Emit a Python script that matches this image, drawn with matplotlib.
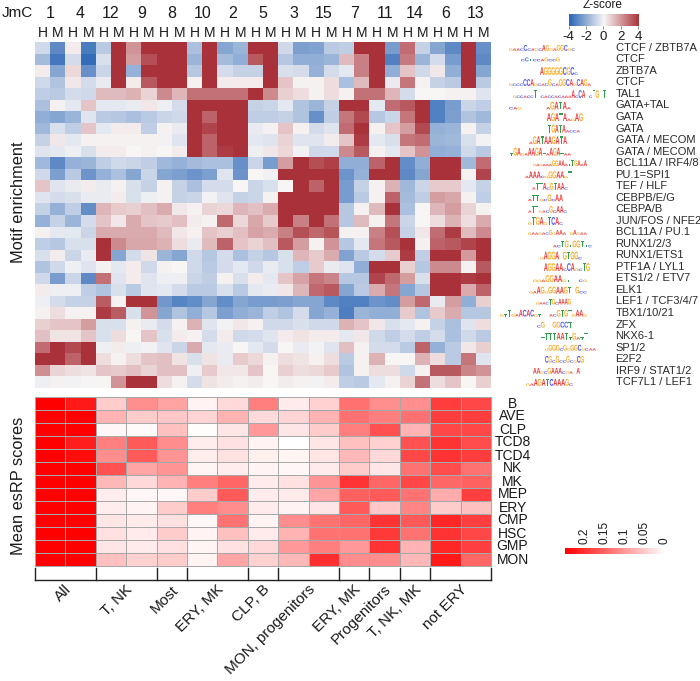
import numpy as np
import matplotlib
matplotlib.use("Agg")
import matplotlib.pyplot as plt
from matplotlib.colors import LinearSegmentedColormap
from matplotlib.patheffects import AbstractPathEffect
from matplotlib.transforms import Affine2D

plt.rcParams['font.family'] = ['Liberation Sans', 'DejaVu Sans']

jmc = ['1', '4', '12', '9', '8', '10', '2', '5', '3', '15', '7', '11', '14', '6', '13']
motifs = ['CTCF / ZBTB7A', 'CTCF', 'ZBTB7A', 'CTCF', 'TAL1', 'GATA+TAL', 'GATA', 'GATA',
          'GATA / MECOM', 'GATA / MECOM', 'BCL11A / IRF4/8', 'PU.1=SPI1', 'TEF / HLF',
          'CEBPB/E/G', 'CEBPA/B', 'JUN/FOS / NFE2', 'BCL11A / PU.1', 'RUNX1/2/3', 'RUNX1/ETS1',
          'PTF1A / LYL1', 'ETS1/2 / ETV7', 'ELK1', 'LEF1 / TCF3/4/7', 'TBX1/10/21', 'ZFX',
          'NKX6-1', 'SP1/2', 'E2F2', 'IRF9 / STAT1/2', 'TCF7L1 / LEF1']
logos = ['gaacCcagcAGgaGGCgc', 'cCtccaGccG', 'AGGGGGCGCc', 'gcccCCAgcacGcaGGCAgCAGa',
         'gccaccTtcaccacaaaAcCAtcTGtT', 'cag      aGATAa', 'AGATAagAG', 'TGATAacca',
         'aGATAAGATA', 'tGAgaAAGAtaAGAtaa', 'gagaaaGGAAatTGAaA', 'aAAAcgGGAAgT',
         'aTTAcGTAAc', 'aTTgcGcAA', 'aTTgacGcAAc', 'gTGAgTCAc', 'gaagacGgAAatgAgaa',
         'acTGtGGTtc', 'gAGGAtGTGGc', 'AGGAAcCAgcTG', 'ggaGGAAgt  cg', 'gaAGgGGAAGT Gcc',
         'gaacTGcAAAG', 'gtTgaACACgt  acGTGTgAAg', 'cG  GGCCT', 'tTTTAATtGatT',
         'gGGGcGgGGCgcaa', 'CGcGccGcgCG', 'AAgcGAAAcga A', 'gaAGATCAAAGc']

zscores = [
    [-.8, -3, .2, -3.4, -1.2, 4, 2, 4, 4, 4, -1.5, 4, -2.2, -1.8, 4, 4, -.8, -2.4, -2.3, -1.2, -1.1, 4, 4, -2.5, 2.8, -1, -2.2, -3, 4, -2.8],
    [-1.6, -3.5, -.7, -3.8, -.6, 4, 1.8, 3.4, 4, 4, -1.8, 4, -1.6, -2, 3.2, 4, -1.3, -2, -2, -1.8, 1.2, 2.4, 4, -3.2, 2.5, -1.8, -.7, -2.5, 4, -3],
    [.2, -2.2, .6, -2.8, -.9, 4, -1.9, 4, 4, 4, -1.3, 4, -.7, -1, -1, 4, -.6, -.7, -1.9, -.7, -.4, 2.4, 4, -2, 1, -.8, .3, -2, 4, -2.2],
    [-.8, -1.4, .3, -.7, -.3, 4, .2, 3.2, 4, 4, .1, 4, .2, .2, .2, 4, 1, .1, .1, .5, -1.5, 1.2, 4, -.3, 2.6, .1, -1, -1.2, 4, -1.2],
    [-1.1, -1.2, -.7, -.8, 1.2, 1.2, 1.4, .7, 2.2, 1.3, 2.7, 2.7, 2.7, 2.7, 4, 2.2, .8, .5, .1, .5, .1, 2.7, 2.7, 1.3, -.7, 0, 0, .1, .1, -.5],
    [-1.5, .1, -.4, 1, -.4, -.4, -.3, .3, -.2, -.7, 4, 4, 4, 4, -1, -.9, -.4, -1.4, -1.8, -1, 4, 4, -.4, 2.8, 3.2, 4, -3.2, -2.5, -.9, -1.1],
    [-2, -2.2, -1.8, -.5, -1.2, -1.3, -1.5, -1.2, -.9, -.8, 4, 3, 4, 4, -1.1, -1.1, -1, -1.4, -2.8, -1.1, 2.6, 3.5, -1.3, -.9, 2.6, 4, -3.2, -2.4, -1.4, -1.7],
    [-1.7, -.6, -1.1, 1, -.4, .2, .2, -1.1, .1, -.3, 4, 3.6, 4, 4, -.3, .1, 1, .1, -.7, -.5, 2.8, 4, .1, 1, 1.8, 3.5, -1.9, -1.8, .1, -1],
    [-1, .3, -.4, .1, .1, .1, .1, .1, -.1, -.5, 4, 3, 4, 4, -.4, -.5, .7, -.5, -.5, .2, 1, 3.8, -.4, -.6, 2.6, 2.8, -1.8, -1.7, -.6, -.1],
    [-.5, -.4, -.2, -.6, .2, .2, 0, .1, 0, .2, 4, 3, 3.8, 4, -.2, .3, .6, -.1, -.8, -.8, 2.2, 3.2, .1, -.4, 1, 2, -2, -1.9, -.8, -1.2],
    [-1.7, -3, -1.9, -1.8, -1.1, -.8, -.9, -1.1, -1.7, -1.9, -1.6, -1.5, -1.5, -2.8, -.9, -2.5, 1.8, 4, 3.4, 3.7, -2, -2, 3, 4, -2.9, -2, 4, 4, -1.7, 2.8],
    [-.8, -2.4, -1.2, -2.7, -1.9, -1.5, -2.2, -.9, -2.2, -2.4, -2.7, -2.4, -.5, -2.7, 0, -.1, 4, 4, 4, 4, -2.7, -1.9, 4, 4, -3, -2.2, 4, 4, .1, 3.6],
    [1, -.5, -.3, .2, -.3, .1, -.6, -1, .1, -1, -1.5, -.7, -.7, 0, -.9, -.6, 0, 4, 3, 4, -2.5, -1, .1, 1.4, -1.7, -.9, .9, .9, -.4, -1],
    [-.5, -.7, -.6, -.3, -.3, .2, -.6, -.2, .1, -1, -.9, -.1, -.5, -1, -.9, .1, 4, 4, 4, 4, -2.5, -1.2, .1, 3, -1.6, -1.1, 1.8, 1.6, .1, -1.1],
    [-1, -1.9, -1.1, -2.9, 1.3, .9, .8, 1.1, 1.5, .3, .1, .7, .6, 1.3, 1.1, 1.5, 4, 4, 4, 4, -1.3, .1, 1.2, 4, -1.5, 0, 1.3, 1.8, .7, .1],
    [-1.9, -1, -1.8, -.7, 1, .3, 1.5, 1, .9, 1.1, .2, .1, 2.9, .6, 1.6, .9, 4, 2.4, 4, 2.7, -1.3, 1.2, .1, 2.6, -.9, 0, .5, 1.4, .5, 1.5],
    [.1, -.4, -.4, -.9, 1.5, 1.5, 1.5, 1.5, 1.2, .3, .1, 1, .8, 1.1, 1.7, 1.5, 2.4, 3.4, 2.9, 3.3, .1, .1, 2.4, 3.4, -1, .3, 2.8, 3.8, 1.2, 2.2],
    [-1.1, -1.3, -.6, -.6, 4, 2.2, 1.6, 1.6, 1.4, .5, -.3, 1.2, 3, 1, .7, 1.1, 3.2, 1.8, .1, 2, -1.3, -.4, 2.6, 3.2, 4, .1, 3, 3.2, 3.6, 4],
    [-.6, .2, -.9, -.3, 4, -2.2, -.7, .4, -1.8, -2.2, -.8, -1.3, -.7, -1.5, -1, -1.3, -.6, 1.3, .9, 1.5, -2.3, -1.2, -.7, .9, 3.8, -1.1, 4, 4, 1.9, 4],
    [-1.4, -.8, -.2, -.5, .1, -.4, .2, -.8, .1, 0, -.8, -1.2, -.7, -.4, -.8, -.3, -.6, -1.1, .9, -.3, -.5, -2, 4, 4, .8, -1.3, 2.2, 2.2, .1, 3.2],
    [-.8, -2.5, -.9, -3, 2.7, -.5, .2, -.5, -.2, -.2, -.9, -1.1, .1, -.6, .2, -.4, 1, 1.7, 2.6, 2.3, -1.3, -1.3, 3.6, 2.9, 1.8, -.6, 4, 4, 3.8, 4],
    [.2, -.2, -.2, -1.1, -1.4, -.6, -1.2, -.5, -.4, -.7, -1.2, -1.2, -.6, -1.2, -.4, -.3, .3, 1.3, 2.9, 3.2, -2.2, -1.2, 1.5, 2.6, -2.2, -1.3, 4, 4, 1.5, 3],
    [-.2, -.7, -1, -1, 3.1, .1, 4, 4, -2.6, -3.1, -2.9, -2.2, -2.9, -2.2, -2.5, -2.5, -2.4, -2.2, -2.2, -3, -3.2, -3.2, -2.7, -2.9, 1.8, 2.9, -.3, 1.8, -2, .8],
    [.1, .5, .1, .1, 3.8, 3.1, -.6, 2, -2.2, -1.4, -2, -1.3, -2.4, -2, -1.8, -1.1, -1.4, -.7, -2.2, -1.9, -3.3, -1.8, -2, -2, .9, -1.4, .9, 1.5, -1.3, -1.3],
    [.8, 1, 1, 1.8, -.6, -.6, .1, -.3, -.7, .1, 1.4, -.5, -.1, .3, .1, -.8, -.8, -.6, -.8, -.8, 1.4, 1, .3, -.6, -.4, .1, -1, -1.5, -.5, .5],
    [1.1, .4, .4, 1, -.6, .5, 0, 1, -.6, .2, .1, -.7, .2, -.8, -.7, -.5, .2, .4, .2, .2, -.4, .3, -.8, -1.1, -.7, -1.1, -.7, -1.5, -.8, -1.2],
    [2.8, 4, 3.5, 4, -.2, .2, -.2, -.1, -.5, -.9, 1.5, -.4, -.3, 0, -.4, -.7, 0, -.3, -.1, -.5, 1.1, .1, -.7, -.7, -1.2, 3, -1.9, -1.2, .3, .8],
    [4, 4, 3, 4, .5, .1, .5, 1, 1.1, .4, -.6, .4, -.3, .9, .6, .1, .5, .4, .1, .5, -1.2, .1, 1.4, 0, 0, 1.4, .5, -1.2, 2.6, -.5],
    [2.1, .7, .5, .4, 1, .9, 1.1, .7, 1.1, 1.1, -.2, .9, .3, .3, 1, 0, .8, .5, .6, .9, -1.4, .1, .5, .5, -.8, .1, 3.2, 3.2, 2.3, 2],
    [-.2, .1, -.1, -.05, .05, 2, 4, 4, .5, .1, -.7, .4, .2, .1, .2, 0, .2, .1, -.1, .2, -1.1, -1.2, -.4, .1, .7, 2.7, .5, 1, 0, .8],
]

cell_types = ['B', 'AVE', 'CLP', 'TCD8', 'TCD4', 'NK', 'MK', 'MEP', 'ERY', 'CMP', 'HSC', 'GMP', 'MON']
esrp = [
    [.25, .225, .05, .11, .09, .012, .037, .125, .02, .045, .14, .11, .11, .19, .18],
    [.25, .25, .075, .05, .055, .042, .075, .037, .042, .075, .14, .125, .14, .19, .19],
    [.25, .25, .008, .005, .062, .003, .025, .1, .025, .05, .125, .17, .075, .18, .18],
    [.25, .22, .125, .162, .112, .018, .03, .012, 0, .025, .062, .045, .17, .2, .175],
    [.25, .238, .112, .162, .105, .018, .03, .015, .01, .025, .07, .038, .18, .2, .19],
    [.25, .25, .17, .088, .105, .01, .018, .012, .008, .02, .05, .025, .138, .175, .138],
    [.25, .25, .07, .038, .075, .125, .15, .02, .03, .105, .2, .15, .18, .15, .155],
    [.25, .25, .018, .008, .008, .05, .162, .02, .02, .088, .155, .162, .138, .082, .188],
    [.25, .25, .018, .012, .05, .125, .112, .02, .012, .025, .162, .055, .12, .05, .062],
    [.25, .25, .025, .02, .03, .008, .138, .012, .112, .138, .15, .2, .162, .212, .188],
    [.25, .25, .03, .02, .05, .012, .062, .02, .075, .138, .138, .195, .138, .2, .18],
    [.25, .25, .025, .02, .03, .01, .03, .038, .1, .125, .1, .2, .075, .212, .188],
    [.25, .25, .062, .045, .05, .012, .088, .045, .07, .205, .112, .112, .07, .225, .15],
]
groups = ['All', 'T, NK', 'Most', 'ERY, MK', 'CLP, B', 'MON, progenitors', 'ERY, MK',
          'Progenitors', 'T, NK, MK', 'not ERY']
group_sizes = [2, 2, 1, 2, 1, 2, 1, 1, 1, 2]
zticks = [-4, -2, 0, 2, 4]
eticks = [0.2, 0.15, 0.1, 0.05, 0]

W, H = 700, 681
fig = plt.figure(figsize=(7, 6.81), dpi=100)


class VStretch(AbstractPathEffect):
    """Stretch glyphs upward from their baseline, as letters in a sequence logo."""

    def __init__(self, k):
        super().__init__()
        self.k = k

    def draw_path(self, renderer, gc, tpath, affine, rgbFace=None):
        renderer.draw_path(gc, tpath, Affine2D().scale(1, self.k) + affine, rgbFace)


def px_axes(x0, y0, x1, y1, **kw):
    return fig.add_axes([x0 / W, 1 - y1 / H, (x1 - x0) / W, (y1 - y0) / H], **kw)


zcmap = LinearSegmentedColormap.from_list('z', ['#2a65b5', '#f8f6f6', '#a9323a'])
rcmap = LinearSegmentedColormap.from_list('r', ['#ffffff', '#ff0000'])
TXT = '#1a1a1a'
GX0, GX1 = 35, 491

# main heatmap
ax = px_axes(GX0, 42, GX1, 388)
ax.pcolormesh(np.array(zscores), cmap=zcmap, vmin=-4, vmax=4)
ax.invert_yaxis()
ax.axis('off')

# esRP heatmap
ax2 = px_axes(GX0, 397, GX1, 566)
mesh = ax2.pcolormesh(np.array(esrp), cmap=rcmap, vmin=0, vmax=0.25, edgecolors='#a8a8a8', linewidth=0.55)
mesh.set_clip_on(False)
ax2.invert_yaxis()
ax2.axis('off')

# colour bars
cb1 = px_axes(568.5, 14, 638, 26)
cb1.imshow(np.linspace(-4, 4, 256)[None, :], cmap=zcmap, vmin=-4, vmax=4, aspect='auto',
           extent=[-4, 4, 0, 1])
cb1.set_yticks([])
cb1.set_xticks(zticks)
cb1.set_xticklabels([str(t) for t in zticks], fontsize=9.5, color=TXT)
cb1.tick_params(axis='x', length=2, width=0.5, pad=1.5, color='#555555')
for s in cb1.spines.values():
    s.set_visible(False)

cb2 = px_axes(565, 547.5, 665, 554)
cb2.imshow(np.linspace(0.25, 0, 256)[None, :], cmap=rcmap, vmin=0, vmax=0.25, aspect='auto',
           extent=[0.25, 0, 0, 1])
cb2.axis('off')

# overlay in pixel coordinates for all labels
ov = fig.add_axes([0, 0, 1, 1], zorder=5)
ov.set_xlim(0, W)
ov.set_ylim(H, 0)
ov.axis('off')
ov.patch.set_alpha(0)

col_w = (GX1 - GX0) / len(jmc)
ov.text(17, 13, 'JmC', fontsize=11, ha='center', va='center', color=TXT)
for i, name in enumerate(jmc):
    cx = GX0 + col_w * (i + .5)
    ov.text(cx, 13, name, fontsize=11.5, ha='center', va='center', color=TXT)
    ov.text(cx - col_w / 4, 33, 'H', fontsize=10, ha='center', va='center', color=TXT)
    ov.text(cx + col_w / 4, 33, 'M', fontsize=10, ha='center', va='center', color=TXT)

ov.text(18.5, 202, 'Motif enrichment', fontsize=11.8, rotation=90, ha='center', va='center', color=TXT)
ov.text(18.5, 486, 'Mean esRP scores', fontsize=11.8, rotation=90, ha='center', va='center', color=TXT)
ov.text(603, 5, 'Z-score', fontsize=8.5, ha='center', va='center', color=TXT)

# logo layout, in pixels
logo_start = [509, 521, 540, 509, 513, 509, 547, 548, 529, 510, 533, 525, 532, 528, 528,
              528, 528, 553, 540, 544, 533, 529, 536, 500, 537, 541, 545, 545, 533, 526]
logo_end = [575, 560, 578, 591, 606, 571, 583, 580, 567, 571, 587, 572, 568, 563, 567,
            563, 587, 592, 582, 590, 587, 587, 571, 587, 572, 588, 596, 584, 580, 573]
logo_tall = [6, 4, 8, 7, 8, 8, 8, 8, 8, 8, 6, 7, 7, 7, 7, 8, 5, 7, 8, 8, 7, 7, 6, 7, 6, 7, 6, 7, 6, 7]

rh = (388 - 42) / len(motifs)
letter_colors = {'A': '#ee3a3a', 'C': '#4a55ee', 'G': '#f6ae2d', 'T': '#2f9e4f'}
for i, name in enumerate(motifs):
    cy = 42 + rh * (i + .5)
    ov.text(615.5, cy, name, fontsize=8, ha='left', va='center', color='#2a2a2a')
    s = logos[i]
    step = (logo_end[i] - logo_start[i]) / len(s)
    fs = step * 1.05
    for j, ch in enumerate(s):
        if ch == ' ':
            continue
        target = logo_tall[i] if ch.isupper() else 2.4
        t = ov.text(logo_start[i] + step * (j + .5), cy + logo_tall[i] / 2, ch.upper(),
                    fontsize=fs, fontweight='bold', ha='center', va='baseline',
                    color=letter_colors[ch.upper()])
        t.set_path_effects([VStretch(target / fs)])

erh = (566 - 397) / len(cell_types)
for i, name in enumerate(cell_types):
    ov.text(512.5, 397 + erh * (i + .5), name, fontsize=10, ha='center', va='center', color=TXT)

# colour bar tick labels for esRP scale
for t in eticks:
    ov.text(664 - t / 0.25 * 99, 544.5, str(t), fontsize=8.5, rotation=90, ha='center', va='bottom', color=TXT)

# group brackets
edges = GX0 + col_w * np.concatenate([[0], np.cumsum(group_sizes)])
ov.plot([edges[0], edges[-1]], [579.5, 579.5], color='#222222', lw=1)
for e in edges:
    ov.plot([e, e], [568, 579.5], color='#222222', lw=1)
for name, a, b in zip(groups, edges[:-1], edges[1:]):
    ov.text((a + b) / 2 - 1, 582.5, name, fontsize=11, rotation=45, ha='right', va='top',
            rotation_mode='anchor', color=TXT)

fig.savefig('out.png', dpi=100)
